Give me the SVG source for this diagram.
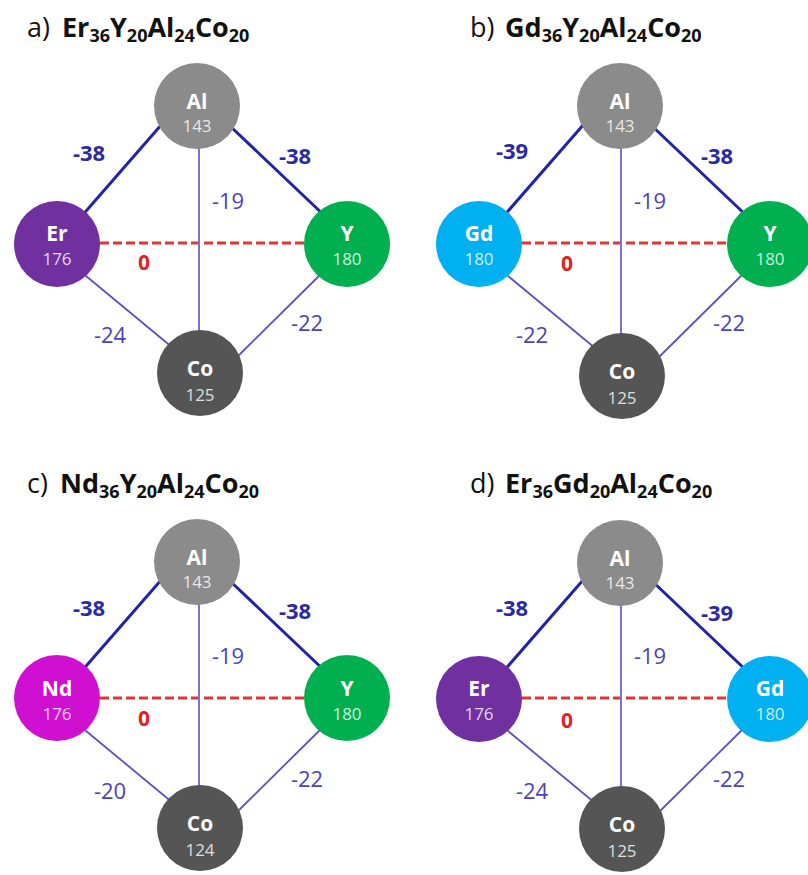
<svg xmlns="http://www.w3.org/2000/svg" width="808" height="875" viewBox="0 0 808 875">
<style>
  .title{font-family:"Open Sans","Noto Sans","DejaVu Sans",sans-serif;font-size:27px;fill:#111;}
  .title .f{font-weight:bold;}
  .title .s{font-size:18px;font-weight:bold;}
  .thick{stroke:#2323a6;stroke-width:3;fill:none;stroke-linecap:round;}
  .thin{stroke:#5a52bf;stroke-width:1.8;fill:none;}
  .vert{stroke:#7a72d0;stroke-width:2;fill:none;}
  .dash{stroke:#e03535;stroke-width:3.2;stroke-dasharray:9 4;fill:none;}
  .lb{font-family:"Open Sans","Noto Sans",sans-serif;font-size:22px;font-weight:bold;fill:#2a2aa2;text-anchor:middle;}
  .ln{font-family:"Open Sans","Noto Sans",sans-serif;font-size:22px;fill:#4a44b8;text-anchor:middle;}
  .lz{font-family:"Open Sans","Noto Sans",sans-serif;font-size:21px;font-weight:bold;fill:#e52020;text-anchor:middle;}
  .sym{font-family:"Open Sans","Noto Sans",sans-serif;font-size:21px;font-weight:bold;fill:#ffffff;text-anchor:middle;}
  .num{font-family:"Open Sans","Noto Sans",sans-serif;font-size:17px;fill:#ffffff;fill-opacity:0.82;text-anchor:middle;}
  .al{fill:#8b8b8b;} .co{fill:#555555;} .er{fill:#7030a0;} .y{fill:#00b050;} .gd{fill:#00b0f0;} .nd{fill:#d010d0;}
</style>
<rect width="808" height="875" fill="#ffffff"/>

<!-- Titles -->
<text class="title" x="27" y="37">a) <tspan class="f" x="62">Er</tspan><tspan class="s" dy="5">36</tspan><tspan class="f" dy="-5">Y</tspan><tspan class="s" dy="5">20</tspan><tspan class="f" dy="-5">Al</tspan><tspan class="s" dy="5">24</tspan><tspan class="f" dy="-5">Co</tspan><tspan class="s" dy="5">20</tspan></text>
<text class="title" x="470" y="37">b) <tspan class="f" x="505">Gd</tspan><tspan class="s" dy="5">36</tspan><tspan class="f" dy="-5">Y</tspan><tspan class="s" dy="5">20</tspan><tspan class="f" dy="-5">Al</tspan><tspan class="s" dy="5">24</tspan><tspan class="f" dy="-5">Co</tspan><tspan class="s" dy="5">20</tspan></text>
<text class="title" x="27" y="493">c) <tspan class="f" x="60">Nd</tspan><tspan class="s" dy="5">36</tspan><tspan class="f" dy="-5">Y</tspan><tspan class="s" dy="5">20</tspan><tspan class="f" dy="-5">Al</tspan><tspan class="s" dy="5">24</tspan><tspan class="f" dy="-5">Co</tspan><tspan class="s" dy="5">20</tspan></text>
<text class="title" x="470" y="493">d) <tspan class="f" x="505">Er</tspan><tspan class="s" dy="5">36</tspan><tspan class="f" dy="-5">Gd</tspan><tspan class="s" dy="5">20</tspan><tspan class="f" dy="-5">Al</tspan><tspan class="s" dy="5">24</tspan><tspan class="f" dy="-5">Co</tspan><tspan class="s" dy="5">20</tspan></text>

<!-- Panel a -->
<g id="panel-a">
  <g id="a-connectors">
    <line class="thick" x1="80" y1="218" x2="162" y2="124"/>
    <line class="thick" x1="230" y1="126" x2="327" y2="218"/>
    <line class="thin" x1="80" y1="271" x2="173" y2="348"/>
    <line class="thin" x1="323" y1="272" x2="235" y2="359"/>
    <line class="dash" x1="100" y1="243" x2="305" y2="243"/>
    <line class="vert" x1="199" y1="140" x2="199" y2="340"/>
    <text class="lb" x="89" y="161">-38</text>
    <text class="lb" x="295" y="164">-38</text>
    <text class="ln" x="228" y="209">-19</text>
    <text class="lz" x="144" y="270">0</text>
    <text class="ln" x="110" y="343">-24</text>
    <text class="ln" x="307" y="331">-22</text>
  </g>
  <g id="a-Al"><circle class="al" cx="197" cy="106" r="43"/><text class="sym" x="197" y="109">Al</text><text class="num" x="197" y="132">143</text></g>
  <g id="a-Er"><circle class="er" cx="57" cy="244" r="43"/><text class="sym" x="57" y="241">Er</text><text class="num" x="57" y="265">176</text></g>
  <g id="a-Y"><circle class="y" cx="347" cy="244" r="43"/><text class="sym" x="347" y="241">Y</text><text class="num" x="347" y="265">180</text></g>
  <g id="a-Co"><circle class="co" cx="200" cy="373" r="43"/><text class="sym" x="200" y="376">Co</text><text class="num" x="200" y="401">125</text></g>
</g>

<!-- Panel b -->
<g id="panel-b" transform="translate(422,0)">
  <g id="b-connectors">
    <line class="thick" x1="80" y1="218" x2="162" y2="124"/>
    <line class="thick" x1="230" y1="126" x2="327" y2="218"/>
    <line class="thin" x1="80" y1="271" x2="173" y2="348"/>
    <line class="thin" x1="323" y1="272" x2="235" y2="359"/>
    <line class="dash" x1="100" y1="243" x2="305" y2="243"/>
    <line class="vert" x1="199" y1="140" x2="199" y2="340"/>
    <text class="lb" x="90" y="159">-39</text>
    <text class="lb" x="295" y="164">-38</text>
    <text class="ln" x="228" y="209">-19</text>
    <text class="lz" x="145" y="271">0</text>
    <text class="ln" x="110" y="343">-22</text>
    <text class="ln" x="307" y="331">-22</text>
  </g>
  <g id="b-Al"><circle class="al" cx="198" cy="106" r="43"/><text class="sym" x="198" y="109">Al</text><text class="num" x="198" y="132">143</text></g>
  <g id="b-Gd"><circle class="gd" cx="57" cy="244" r="43"/><text class="sym" x="57" y="241">Gd</text><text class="num" x="57" y="265">180</text></g>
  <g id="b-Y"><circle class="y" cx="348" cy="244" r="43"/><text class="sym" x="348" y="241">Y</text><text class="num" x="348" y="265">180</text></g>
  <g id="b-Co"><circle class="co" cx="200" cy="376" r="43"/><text class="sym" x="200" y="379">Co</text><text class="num" x="200" y="404">125</text></g>
</g>

<!-- Panel c -->
<g id="panel-c" transform="translate(0,455)">
  <g id="c-connectors">
    <line class="thick" x1="80" y1="218" x2="162" y2="124"/>
    <line class="thick" x1="230" y1="126" x2="327" y2="218"/>
    <line class="thin" x1="80" y1="271" x2="173" y2="348"/>
    <line class="thin" x1="323" y1="272" x2="235" y2="359"/>
    <line class="dash" x1="100" y1="243" x2="305" y2="243"/>
    <line class="vert" x1="199" y1="140" x2="199" y2="340"/>
    <text class="lb" x="89" y="161">-38</text>
    <text class="lb" x="295" y="164">-38</text>
    <text class="ln" x="228" y="209">-19</text>
    <text class="lz" x="144" y="271">0</text>
    <text class="ln" x="110" y="344">-20</text>
    <text class="ln" x="307" y="332">-22</text>
  </g>
  <g id="c-Al"><circle class="al" cx="197" cy="107" r="43"/><text class="sym" x="197" y="110">Al</text><text class="num" x="197" y="133">143</text></g>
  <g id="c-Nd"><circle class="nd" cx="57" cy="243" r="43"/><text class="sym" x="57" y="241">Nd</text><text class="num" x="57" y="265">176</text></g>
  <g id="c-Y"><circle class="y" cx="347" cy="243" r="43"/><text class="sym" x="347" y="241">Y</text><text class="num" x="347" y="265">180</text></g>
  <g id="c-Co"><circle class="co" cx="200" cy="373" r="43"/><text class="sym" x="200" y="376">Co</text><text class="num" x="200" y="401">124</text></g>
</g>

<!-- Panel d -->
<g id="panel-d" transform="translate(422,455)">
  <g id="d-connectors">
    <line class="thick" x1="80" y1="218" x2="162" y2="124"/>
    <line class="thick" x1="230" y1="126" x2="327" y2="218"/>
    <line class="thin" x1="80" y1="271" x2="173" y2="348"/>
    <line class="thin" x1="323" y1="272" x2="235" y2="359"/>
    <line class="dash" x1="100" y1="243" x2="305" y2="243"/>
    <line class="vert" x1="199" y1="140" x2="199" y2="340"/>
    <text class="lb" x="90" y="161">-38</text>
    <text class="lb" x="295" y="166">-39</text>
    <text class="ln" x="228" y="209">-19</text>
    <text class="lz" x="145" y="273">0</text>
    <text class="ln" x="110" y="344">-24</text>
    <text class="ln" x="307" y="332">-22</text>
  </g>
  <g id="d-Al"><circle class="al" cx="198" cy="108" r="43"/><text class="sym" x="198" y="111">Al</text><text class="num" x="198" y="134">143</text></g>
  <g id="d-Er"><circle class="er" cx="57" cy="244" r="43"/><text class="sym" x="57" y="241">Er</text><text class="num" x="57" y="265">176</text></g>
  <g id="d-Gd"><circle class="gd" cx="348" cy="244" r="43"/><text class="sym" x="348" y="241">Gd</text><text class="num" x="348" y="265">180</text></g>
  <g id="d-Co"><circle class="co" cx="200" cy="374" r="43"/><text class="sym" x="200" y="377">Co</text><text class="num" x="200" y="402">125</text></g>
</g>
</svg>
